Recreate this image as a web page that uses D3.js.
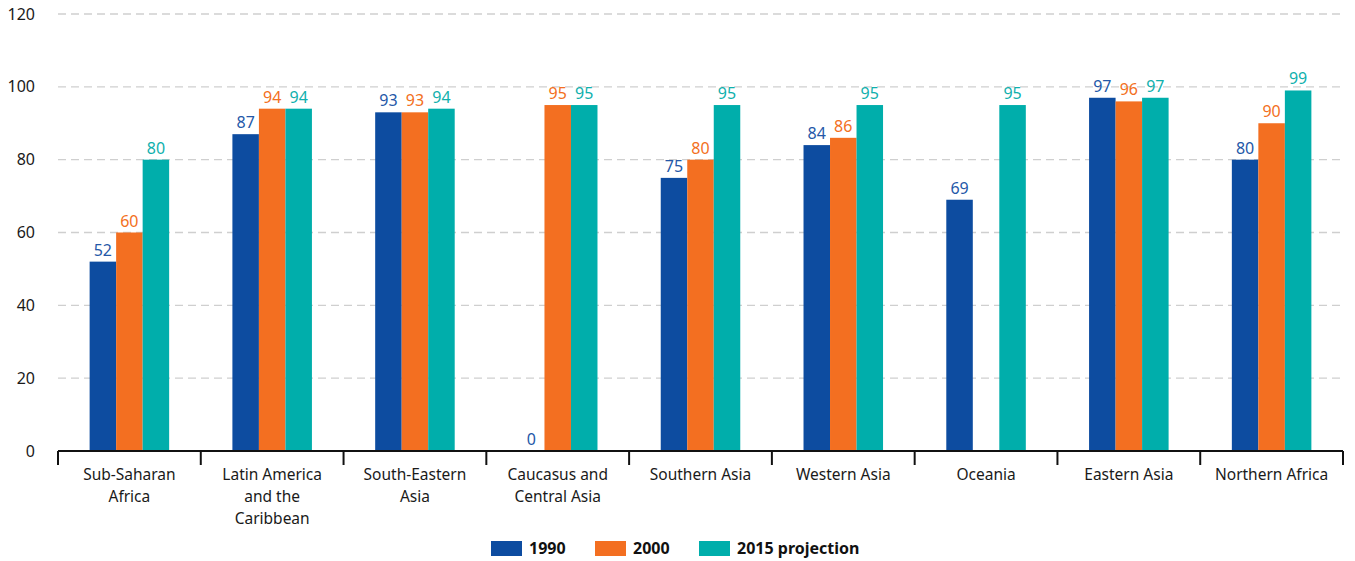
<!DOCTYPE html>
<html lang="en">
<head>
<meta charset="UTF-8">
<title>Regional bars 1990 / 2000 / 2015</title>
<script src="https://cdn.jsdelivr.net/npm/d3@7"></script>
<style>
  body { margin: 0; background: #fff; }
  svg text { font-family: "Noto Sans", "Open Sans", sans-serif; }
</style>
</head>
<body>
<script>
// data
var categories = ["Sub-Saharan\nAfrica", "Latin America\nand the\nCaribbean", "South-Eastern\nAsia",
  "Caucasus and\nCentral Asia", "Southern Asia", "Western Asia", "Oceania", "Eastern Asia", "Northern Africa"];
var seriesNames = ["1990", "2000", "2015 projection"];
var v1990 = [52, 87, 93, 0, 75, 84, 69, 97, 80];
var v2000 = [60, 94, 93, 95, 80, 86, null, 96, 90];
var v2015 = [80, 94, 94, 95, 95, 95, 95, 97, 99];
var yTicks = [0, 20, 40, 60, 80, 100, 120];

var colors = ["#0d4ca0", "#f36f21", "#00aeab"];
var labelColors = ["#2458a8", "#f36f21", "#10b0ad"];

var W = 1355, H = 561;
var mLeft = 58, mRight = 1343, mTop = 14, mBottom = 451;

var svg = d3.select("body").append("svg").attr("width", W).attr("height", H);

var y = d3.scaleLinear().domain([0, 120]).range([mBottom, mTop]);
var x0 = d3.scaleBand().domain(categories).range([mLeft, mRight]).padding(0);
var gw = x0.bandwidth() * 0.557;
var x1 = d3.scaleBand().domain(seriesNames)
  .range([(x0.bandwidth() - gw) / 2, (x0.bandwidth() + gw) / 2]).padding(0);

// gridlines
svg.append("g").selectAll("line").data(yTicks.filter(function(d){ return d > 0; }))
  .enter().append("line")
  .attr("x1", mLeft).attr("x2", mRight + 2)
  .attr("y1", function(d){ return y(d); }).attr("y2", function(d){ return y(d); })
  .attr("stroke", "#cfcfcf").attr("stroke-width", 1.3)
  .attr("stroke-dasharray", "8,5");

// y axis labels
var yAxis = svg.append("g").attr("transform", "translate(" + mLeft + ",0)")
  .call(d3.axisLeft(y).tickValues(yTicks).tickSize(0).tickPadding(23));
yAxis.select(".domain").remove();
yAxis.selectAll("text").attr("font-size", 16).attr("fill", "#1a1a1a")
  .style("font-family", "'Noto Sans', sans-serif");

// bars
var rows = categories.map(function(c, i){
  return { cat: c, vals: [v1990[i], v2000[i], v2015[i]] };
});
var groups = svg.append("g").selectAll("g").data(rows).enter().append("g")
  .attr("transform", function(d){ return "translate(" + x0(d.cat) + ",0)"; });

groups.selectAll("rect")
  .data(function(d){ return d.vals.map(function(v, k){ return { s: seriesNames[k], k: k, v: v }; })
    .filter(function(e){ return e.v !== null; }); })
  .enter().append("rect")
  .attr("x", function(e){ return x1(e.s); })
  .attr("y", function(e){ return y(e.v); })
  .attr("width", x1.bandwidth())
  .attr("height", function(e){ return mBottom - y(e.v); })
  .attr("fill", function(e){ return colors[e.k]; });

groups.selectAll("text.val")
  .data(function(d){ return d.vals.map(function(v, k){ return { s: seriesNames[k], k: k, v: v }; })
    .filter(function(e){ return e.v !== null; }); })
  .enter().append("text").attr("class", "val")
  .attr("x", function(e){ return x1(e.s) + x1.bandwidth() / 2; })
  .attr("y", function(e){ return y(e.v) - 6; })
  .attr("text-anchor", "middle")
  .attr("font-size", 16)
  .attr("fill", function(e){ return labelColors[e.k]; })
  .text(function(e){ return e.v; });

// x axis line + boundary ticks
var xa = svg.append("g");
xa.append("line").attr("x1", mLeft).attr("x2", mRight)
  .attr("y1", mBottom).attr("y2", mBottom)
  .attr("stroke", "#111").attr("stroke-width", 2);
var bounds = categories.map(function(c){ return x0(c); }).concat([mRight]);
xa.selectAll("line.tk").data(bounds).enter().append("line").attr("class", "tk")
  .attr("x1", function(d){ return d; }).attr("x2", function(d){ return d; })
  .attr("y1", mBottom).attr("y2", mBottom + 14)
  .attr("stroke", "#111").attr("stroke-width", 2);

// category labels
var cl = xa.selectAll("text.cat").data(categories).enter().append("text").attr("class", "cat")
  .attr("x", function(d){ return x0(d) + x0.bandwidth() / 2; })
  .attr("y", mBottom + 29)
  .attr("text-anchor", "middle")
  .attr("font-size", 15.5)
  .attr("fill", "#1a1a1a");
cl.selectAll("tspan").data(function(d){ return d.split("\n"); }).enter().append("tspan")
  .attr("x", function(){ return d3.select(this.parentNode).attr("x"); })
  .attr("dy", function(d, i){ return i === 0 ? 0 : 22; })
  .text(function(d){ return d; });

// legend
var legX = [491, 595, 699];
var leg = svg.append("g").selectAll("g").data(seriesNames).enter().append("g")
  .attr("transform", function(d, i){ return "translate(" + legX[i] + ",541)"; });
leg.append("rect").attr("width", 31).attr("height", 15)
  .attr("fill", function(d, i){ return colors[i]; });
leg.append("text").attr("x", 38).attr("y", 13)
  .attr("font-size", 16).attr("font-weight", "bold").attr("fill", "#111")
  .text(function(d){ return d; });
</script>
</body>
</html>
